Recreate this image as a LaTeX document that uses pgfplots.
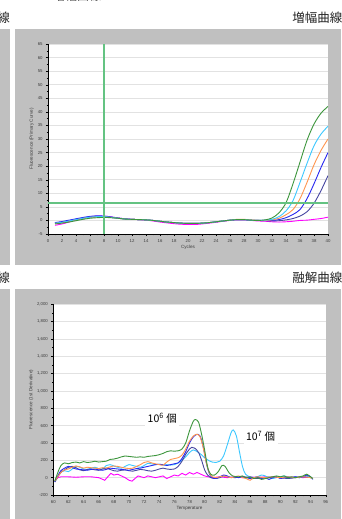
\documentclass[border=0pt]{standalone}
\usepackage{pgfplots}
\pgfplotsset{compat=1.18}
\usepackage{fontspec}
\setmainfont{Liberation Sans}
\newfontfamily\jp{Noto Sans CJK JP}
\definecolor{panel}{RGB}{192,192,192}
\definecolor{cgreen}{RGB}{60,150,60}
\definecolor{ccyan}{RGB}{60,200,255}
\definecolor{corange}{RGB}{255,150,80}
\definecolor{cblue}{RGB}{40,40,240}
\definecolor{cnavy}{RGB}{70,70,160}
\definecolor{cmag}{RGB}{255,0,255}
\definecolor{thr}{RGB}{100,195,130}
\definecolor{gridc}{RGB}{226,226,226}
\definecolor{tickc}{RGB}{60,60,60}
\pgfplotsset{
  common/.style={
    scale only axis,
    axis x line*=bottom, axis y line*=left,
    axis line style={-, black, line width=0.5pt},
    tick align=outside,
    major tick length=2.2pt, minor tick length=1.3pt,
    tick style={black, line width=0.4pt},
    ymajorgrids, grid style={gridc, line width=0.5pt},
    axis background/.style={fill=white},
    tick label style={font=\fontsize{4.3}{5}\selectfont, text=tickc},
    label style={font=\fontsize{4.6}{5.5}\selectfont, text=tickc},
    /pgf/number format/assume math mode=true,
    xticklabel style={yshift=0.6pt},
    yticklabel style={xshift=0.3pt},
  }
}
\begin{document}
\begin{tikzpicture}
\path[use as bounding box] (0pt,0pt) rectangle (341pt,519pt);
\begin{scope}
\clip (0pt,0pt) rectangle (341pt,519pt);
\fill[white] (0pt,0pt) rectangle (341pt,519pt);
\fill[panel] (0pt,0pt) rectangle (10pt,230pt);
\fill[panel] (0pt,254pt) rectangle (10pt,490pt);
\fill[panel] (15pt,254pt) rectangle (341pt,490pt);
\fill[panel] (15pt,0pt) rectangle (341pt,230pt);
\node[anchor=east, font=\jp\fontsize{12.5}{14}\selectfont, text=black!85, inner sep=0pt] at (342.5pt,501.5pt) {増幅曲線};
\node[anchor=east, font=\jp\fontsize{12.5}{14}\selectfont, text=black!85, inner sep=0pt] at (342.5pt,241pt) {融解曲線};
\node[anchor=east, font=\jp\fontsize{12.5}{14}\selectfont, text=black!85, inner sep=0pt] at (10pt,501.5pt) {曲線};
\node[anchor=east, font=\jp\fontsize{12.5}{14}\selectfont, text=black!85, inner sep=0pt] at (10pt,241pt) {曲線};
\node[anchor=center, font=\jp\fontsize{12}{14}\selectfont, text=black!70, inner sep=0pt] at (77pt,523.5pt) {増幅曲線};
\end{scope}

% ---------- Amplification curves ----------
\begin{axis}[common,
  at={(48pt,285pt)}, anchor=south west, width=280pt, height=190pt,
  xmin=0, xmax=40, ymin=-5, ymax=65,
  xtick={0,2,...,40}, minor x tick num=1,
  ytick={-5,0,...,65}, minor y tick num=1,
  xlabel={Cycles}, ylabel={Fluorescence (Primary Curve)},
  xlabel style={yshift=3.5pt}, ylabel style={yshift=-3pt},
  every axis plot/.append style={line width=0.9pt, smooth},
]
\addplot[cmag] coordinates {(1,-1.8)(2,-1.3)(3,-0.6)(4,0.2)(5,0.8)(6,1.3)(7,1.6)(8,1.6)(9,1.3)(10,0.9)(11,0.6)(12,0.4)(13,0.3)(14,0.1)(15,-0.2)(16,-0.6)(17,-0.9)(18,-1.2)(19,-1.4)(20,-1.5)(21,-1.5)(22,-1.3)(23,-1.0)(24,-0.7)(25,-0.3)(26,0.0)(27,0.2)(28,0.2)(29,0.0)(30,-0.2)(31,-0.3)(32,-0.5)(33,-0.6)(34,-0.5)(35,-0.3)(36,0.0)(37,0.1)(38,0.4)(39,0.7)(40,1.2)};
\addplot[cnavy] coordinates {(1,-1.0)(2,-0.7)(3,-0.2)(4,0.3)(5,0.8)(6,1.2)(7,1.4)(8,1.4)(9,1.1)(10,0.8)(11,0.5)(12,0.4)(13,0.3)(14,0.2)(15,0.0)(16,-0.3)(17,-0.6)(18,-0.8)(19,-1.0)(20,-1.1)(21,-1.1)(22,-1.0)(23,-0.8)(24,-0.5)(25,-0.2)(26,0.1)(27,0.3)(28,0.3)(29,0.1)(30,0.0)(31,-0.1)(32,-0.2)(33,-0.1)(34,0.2)(35,0.7)(36,1.6)(37,3.2)(38,6.3)(39,11)(40,16.5)};
\addplot[cblue] coordinates {(1,-0.8)(2,-0.4)(3,0.1)(4,0.6)(5,1.1)(6,1.5)(7,1.7)(8,1.6)(9,1.3)(10,0.9)(11,0.6)(12,0.4)(13,0.3)(14,0.2)(15,0.0)(16,-0.3)(17,-0.6)(18,-0.8)(19,-1.0)(20,-1.1)(21,-1.1)(22,-1.0)(23,-0.8)(24,-0.5)(25,-0.2)(26,0.1)(27,0.3)(28,0.3)(29,0.1)(30,0.0)(31,0.0)(32,0.0)(33,0.3)(34,1.0)(35,2.2)(36,4.0)(37,8.0)(38,13.5)(39,19.5)(40,25)};
\addplot[corange] coordinates {(1,-1.1)(2,-0.8)(3,-0.3)(4,0.2)(5,0.7)(6,1.1)(7,1.3)(8,1.3)(9,1.1)(10,0.8)(11,0.5)(12,0.4)(13,0.3)(14,0.2)(15,0.0)(16,-0.3)(17,-0.6)(18,-0.8)(19,-1.0)(20,-1.1)(21,-1.1)(22,-1.0)(23,-0.8)(24,-0.5)(25,-0.2)(26,0.1)(27,0.4)(28,0.4)(29,0.2)(30,0.0)(31,0.0)(32,0.2)(33,0.8)(34,2.1)(35,4.0)(36,8.0)(37,14)(38,20.5)(39,25.8)(40,30)};
\addplot[ccyan] coordinates {(1,-1.0)(2,-0.7)(3,-0.2)(4,0.3)(5,0.8)(6,1.2)(7,1.4)(8,1.4)(9,1.1)(10,0.8)(11,0.5)(12,0.4)(13,0.3)(14,0.2)(15,0.0)(16,-0.3)(17,-0.6)(18,-0.8)(19,-1.0)(20,-1.1)(21,-1.1)(22,-1.0)(23,-0.8)(24,-0.5)(25,-0.2)(26,0.1)(27,0.3)(28,0.3)(29,0.1)(30,0.0)(31,0.1)(32,0.4)(33,1.4)(34,3.5)(35,7.3)(36,14)(37,21)(38,27.5)(39,31.8)(40,34.7)};
\addplot[cgreen] coordinates {(1,-1.3)(2,-1.0)(3,-0.6)(4,-0.1)(5,0.4)(6,0.8)(7,1.0)(8,1.1)(9,1.0)(10,0.8)(11,0.5)(12,0.4)(13,0.3)(14,0.2)(15,0.0)(16,-0.3)(17,-0.6)(18,-0.8)(19,-1.0)(20,-1.1)(21,-1.1)(22,-1.0)(23,-0.8)(24,-0.5)(25,-0.2)(26,0.1)(27,0.3)(28,0.3)(29,0.1)(30,0.0)(31,0.2)(32,0.9)(33,2.8)(34,6.5)(35,13.5)(36,21.5)(37,29.5)(38,35.5)(39,39.5)(40,42)};
\addplot[thr, line width=2pt, sharp plot, forget plot] coordinates {(0,6.3)(20,6.3)(40,6.3)};
\addplot[thr, line width=2pt, sharp plot, forget plot] coordinates {(8,-5)(8,65)};
\end{axis}

% ---------- Melt curves ----------
\begin{axis}[common,
  at={(53.3pt,24pt)}, anchor=south west, width=272.4pt, height=190.7pt,
  xmin=60, xmax=96, ymin=-200, ymax=2000,
  xtick={60,62,...,96}, minor x tick num=1,
  ytick={-200,0,...,2000}, minor y tick num=1,
  /pgf/number format/1000 sep={,},
  xlabel={Temperature}, ylabel={Fluorescence (1st Derivative)},
  xlabel style={yshift=3.5pt}, ylabel style={yshift=-3pt},
  every axis plot/.append style={line width=0.9pt},
]
\addplot[cmag] coordinates {(60.2,-30)(60.6,0)(61,10)(62,10)(63,5)(64,10)(65,10)(66,0)(66.8,-30)(67.2,10)(67.6,50)(68,30)(68.5,40)(69,20)(69.5,0)(70,-30)(70.4,-40)(70.8,-10)(71.2,20)(71.6,10)(72,0)(72.5,20)(73,10)(73.5,0)(74,10)(74.5,20)(75,-10)(75.5,10)(76,30)(76.5,20)(77,50)(77.5,30)(78,60)(78.5,40)(79,60)(79.5,40)(80,20)(80.5,10)(81,0)(82,10)(83,0)(84,10)(85,0)(86,10)(87,0)(88,10)(89,0)(90,10)(91,0)(92,10)(93,0)(94,10)};
\addplot[ccyan, smooth] coordinates {(60.2,-40)(60.6,20)(61,70)(61.5,80)(62,70)(62.5,100)(63,130)(63.5,120)(64,100)(64.5,95)(65,110)(65.5,120)(66,105)(66.5,100)(67,140)(67.5,150)(68,135)(68.5,120)(69,110)(69.5,130)(70,150)(70.5,140)(71,130)(71.5,120)(72,140)(72.5,165)(73,160)(73.5,150)(74,155)(74.5,145)(75,150)(75.5,145)(76,150)(76.5,170)(77,200)(77.5,240)(78,290)(78.5,320)(79,300)(79.5,270)(80,230)(80.5,200)(81,180)(81.5,175)(82,190)(82.5,250)(83,380)(83.5,520)(83.8,550)(84.2,480)(84.6,300)(85,130)(85.4,40)(86,10)(86.5,0)(87,10)(87.5,30)(88,20)(88.5,0)(89,-10)(89.5,0)(90,10)(90.5,20)(91,10)(91.5,0)(92,10)(92.5,0)(93,10)(93.5,20)(94,0)(94.3,-10)};
\addplot[cnavy, smooth] coordinates {(60.2,-50)(60.6,10)(61,60)(61.5,90)(62,120)(62.5,130)(63,115)(63.5,90)(64,80)(64.5,95)(65,100)(65.5,90)(66,85)(66.5,100)(67,110)(67.5,95)(68,80)(68.5,75)(69,85)(69.5,90)(70,80)(70.5,75)(71,85)(71.5,95)(72,90)(72.5,80)(73,75)(73.5,85)(74,100)(74.5,110)(75,100)(75.5,95)(76,100)(76.5,130)(77,190)(77.5,270)(78,330)(78.3,350)(78.7,340)(79.2,290)(79.6,200)(80,90)(80.4,30)(80.8,0)(81.5,-10)(82,0)(82.5,20)(83,10)(84,0)(85,10)(86,0)(87,-10)(88,0)(89,10)(90,0)(91,-10)(92,0)(93,10)(94,0)};
\addplot[cblue, smooth] coordinates {(60.2,-50)(60.6,20)(61,80)(61.5,110)(62,130)(62.5,115)(63,100)(63.5,95)(64,90)(64.5,85)(65,95)(65.5,100)(66,90)(66.5,85)(67,95)(67.5,110)(68,105)(68.5,100)(69,95)(69.5,90)(70,85)(70.5,95)(71,105)(71.5,110)(72,120)(72.5,130)(73,140)(73.5,150)(74,155)(74.5,150)(75,140)(75.5,150)(76,160)(76.5,170)(77,220)(77.5,300)(78,400)(78.5,470)(79,500)(79.4,480)(79.8,360)(80.2,180)(80.6,50)(81,0)(81.5,-10)(82,10)(82.5,30)(83,20)(83.5,0)(84,10)(84.5,0)(85,10)(85.5,0)(86,-10)(86.5,0)(87,10)(87.5,-10)(88,0)(88.5,-20)(89,0)(89.5,10)(90,-10)(90.5,0)(91,10)(91.5,0)(92,10)(92.5,0)(93,10)(93.5,30)(94,10)(94.3,-20)};
\addplot[corange, smooth] coordinates {(60.2,-40)(60.6,10)(61,60)(61.5,90)(62,100)(62.5,120)(63,135)(63.5,125)(64,110)(64.5,120)(65,115)(65.5,110)(66,105)(66.5,115)(67,110)(67.5,125)(68,135)(68.5,130)(69,120)(69.5,110)(70,105)(70.5,110)(71,130)(71.5,150)(72,175)(72.5,185)(73,170)(73.5,160)(74,150)(74.5,145)(75,180)(75.5,210)(76,220)(76.5,230)(77,260)(77.5,330)(78,420)(78.5,480)(79,500)(79.4,470)(79.8,350)(80.2,180)(80.6,60)(81,10)(81.5,0)(82,10)(82.5,20)(83,10)(83.5,0)(84,10)(84.5,20)(85,0)(85.5,-10)(86,-30)(86.5,0)(87,10)(88,0)(89,10)(90,0)(91,10)(92,0)(93,10)(94,0)(94.3,-10)};
\addplot[cgreen, smooth] coordinates {(60.2,-40)(60.6,60)(61,140)(61.5,170)(62,160)(62.5,175)(63,180)(63.5,170)(64,185)(64.5,175)(65,180)(65.5,190)(66,180)(66.5,185)(67,190)(67.5,210)(68,215)(68.5,225)(69,240)(69.5,250)(70,245)(70.5,240)(71,235)(71.5,240)(72,235)(72.5,245)(73,250)(73.5,255)(74,265)(74.5,280)(75,300)(75.5,310)(76,305)(76.5,310)(77,330)(77.5,400)(78,540)(78.5,650)(78.8,670)(79.2,640)(79.6,500)(80,320)(80.4,120)(80.8,40)(81.3,30)(81.8,70)(82.3,140)(82.7,130)(83.2,60)(83.7,20)(84.5,10)(85,20)(85.5,0)(86,10)(86.5,-10)(87,0)(87.5,-20)(88,-10)(88.5,0)(89,10)(89.5,20)(90,10)(90.5,20)(91,0)(91.5,10)(92,0)(92.5,10)(93,20)(93.5,40)(94,10)(94.3,-10)};
\node[fill=white, font=\jp\fontsize{10.5}{12}\selectfont, inner sep=2.5pt] at (axis cs:74.4,689) {10\textsuperscript{6} 個};
\node[fill=white, font=\jp\fontsize{10.5}{12}\selectfont, inner sep=2.5pt] at (axis cs:87.4,473) {10\textsuperscript{7} 個};
\end{axis}
\end{tikzpicture}
\end{document}
